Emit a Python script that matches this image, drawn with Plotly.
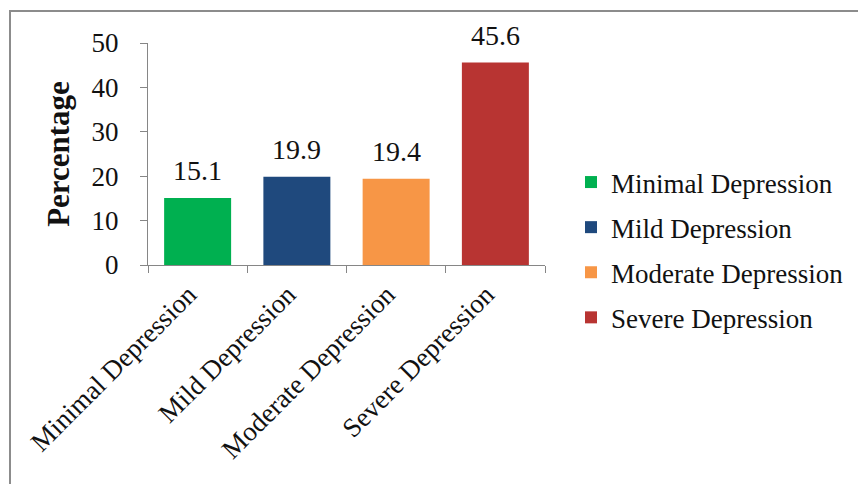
import plotly.graph_objects as go

# Share of respondents by depression severity
categories = ["Minimal Depression", "Mild Depression", "Moderate Depression", "Severe Depression"]
percentages = [15.1, 19.9, 19.4, 45.6]
colors = ["#00B050", "#1F497D", "#F79646", "#B83432"]
y_ticks = [0, 10, 20, 30, 40, 50]

W, H = 858, 484
ML, MR, MT, MB = 148, 313, 43, 219
PW, PH = W - ML - MR, H - MT - MB

FONT = "Liberation Serif, Times New Roman, serif"

fig = go.Figure()
for i, (cat, val, col) in enumerate(zip(categories, percentages, colors)):
    fig.add_trace(go.Bar(
        x=[cat], y=[val], name=cat,
        marker=dict(color=col, line=dict(width=0)),
        width=0.675,
        legendgroup=f"g{i}",
    ))
    # value label above each bar
    fig.add_annotation(
        x=cat, y=val, text=f"{val:.1f}", showarrow=False,
        yanchor="bottom", yshift=10,
        font=dict(family=FONT, size=28, color="#111111"),
    )


def px_x(px):
    return (px - ML) / PW


def px_y(py):
    return (H - MB - py) / PH


fig.update_layout(
    width=W, height=H,
    margin=dict(l=ML, r=MR, t=MT, b=MB, autoexpand=False),
    paper_bgcolor="white", plot_bgcolor="white",
    barmode="overlay",
    font=dict(family=FONT, color="#111111"),
    showlegend=True,
    legend=dict(
        x=px_x(571), y=px_y(158), xanchor="left", yanchor="top",
        font=dict(family=FONT, size=27, color="#111111"),
        tracegroupgap=7, bgcolor="rgba(0,0,0,0)",
        itemclick=False,
    ),
    xaxis=dict(
        categoryorder="array", categoryarray=categories,
        showline=True, linecolor="#868686", linewidth=1,
        ticks="outside", tickson="boundaries", ticklen=7, tickcolor="#868686",
        tickangle=-45, tickfont=dict(family=FONT, size=27, color="#111111"),
        ticklabelshift=-9, ticklabelstandoff=2,
        showgrid=False, zeroline=False, automargin=False,
    ),
    yaxis=dict(
        range=[0, 50], tickvals=y_ticks,
        showline=True, linecolor="#868686", linewidth=1,
        ticks="outside", ticklen=7, tickcolor="#868686",
        tickfont=dict(family=FONT, size=27, color="#111111"),
        ticklabelstandoff=16,
        showgrid=False, zeroline=False, automargin=False,
        title=dict(text="<b>Percentage</b>", font=dict(family=FONT, size=31, color="#111111"),
                   standoff=12),
    ),
    shapes=[dict(
        type="rect", xref="paper", yref="paper", layer="above",
        x0=px_x(10), x1=px_x(875), y0=px_y(500), y1=px_y(11),
        line=dict(color="#8C8C8C", width=2), fillcolor="rgba(0,0,0,0)",
    )],
)

fig.write_html("out.html")
